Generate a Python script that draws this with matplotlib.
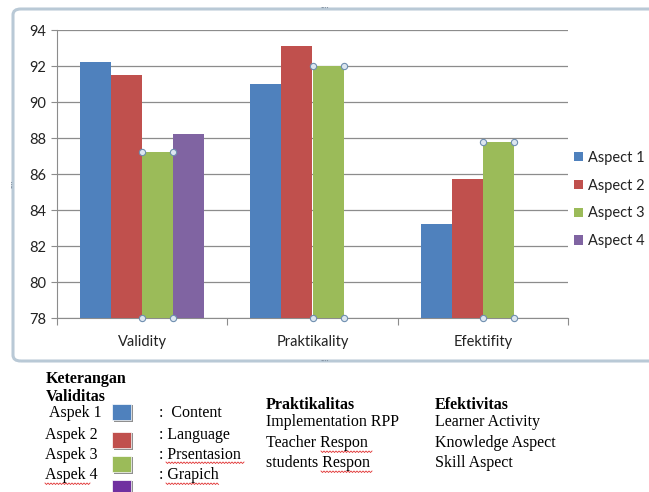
import numpy as np
import matplotlib.pyplot as plt
from matplotlib.patches import FancyBboxPatch, Rectangle

categories = ['Validity', 'Praktikality', 'Efektifity']
series_names = ['Aspect 1', 'Aspect 2', 'Aspect 3', 'Aspect 4']
aspect_1 = [92.2, 91.0, 83.2]
aspect_2 = [91.5, 93.1, 85.7]
aspect_3 = [87.2, 92.0, 87.8]
aspect_4 = [88.2, np.nan, np.nan]
colors = ['#4f81bd', '#c0504d', '#9bbb59', '#8064a2']

W, H = 649, 492
fig = plt.figure(figsize=(W / 100, H / 100), dpi=100)
fig.patch.set_facecolor('white')
plt.rcParams['font.family'] = ['Lato', 'DejaVu Sans']

def fx(px):
    return px / W

def fy(py):
    return 1 - py / H

# excel chart frame
frame = FancyBboxPatch((fx(13), fy(361)), fx(660) - fx(13), fy(9) - fy(361),
                       boxstyle='round,pad=0,rounding_size=0.012',
                       transform=fig.transFigure, facecolor='none',
                       edgecolor='#b9c9d6', linewidth=2.2, zorder=-1)
fig.patches.append(frame)
for (x, y, rot) in [(325, 8, 0), (325, 361, 0), (13, 184, 90)]:
    fig.text(fx(x), fy(y), '····', ha='center', va='center', fontsize=6,
             color='#7f8f9f', rotation=rot)

ax = fig.add_axes([fx(57), fy(318), fx(568) - fx(57), fy(30) - fy(318)])
ax.patch.set_alpha(0)
x = np.arange(len(categories))
w = 0.182
all_series = [aspect_1, aspect_2, aspect_3, aspect_4]
for i, vals in enumerate(all_series):
    ax.bar(x + (i - 1.5) * w, vals, width=w, color=colors[i],
           label=series_names[i], zorder=3, bottom=0)

# selection handles on the green series
for xi, v in zip(x + 0.5 * w, aspect_3):
    for dx in (-w / 2, w / 2):
        ax.plot([xi + dx, xi + dx], [v, 78], 'o', ms=4.5, mfc='#dce6f0',
                mec='#6f8fb0', mew=0.8, zorder=5, clip_on=False)

ax.set_ylim(78, 94)
ax.set_xlim(-0.5, 2.5)
ax.set_yticks(np.arange(78, 95, 2))
ax.yaxis.grid(True, color='#8c8c8c', linewidth=0.9, zorder=0)
ax.set_axisbelow(True)
ax.set_xticks([-0.5, 0.5, 1.5, 2.5])
ax.set_xticklabels([])
ax.set_xticks(x, minor=True)
ax.set_xticklabels(categories, minor=True)
ax.tick_params(axis='x', which='major', length=5, color='#8c8c8c')
ax.tick_params(axis='x', which='minor', length=0, pad=12, labelsize=10.5, labelcolor='#222222')
ax.tick_params(axis='y', length=4, color='#8c8c8c', labelsize=10.5, pad=4, labelcolor='#222222')
for s in ['top', 'right']:
    ax.spines[s].set_visible(False)
for s in ['left', 'bottom']:
    ax.spines[s].set_color('#8c8c8c')

handles, labels = ax.get_legend_handles_labels()
fig.legend(handles, labels, loc='center left', bbox_to_anchor=(fx(574), fy(199.5)),
           frameon=False, handlelength=0.62, handleheight=0.62, handletextpad=0.35,
           labelspacing=0.95, fontsize=10.5, borderpad=0, borderaxespad=0,
           labelcolor='#222222')

# keterangan text below the chart
serif = 'Liberation Serif'
fs = 11.5
fig.text(fx(46), fy(379), 'Keterangan', family=serif, weight='bold', fontsize=fs, va='center')
fig.text(fx(46), fy(397), 'Validitas', family=serif, weight='bold', fontsize=fs, va='center')
aspek = ['Aspek 1', 'Aspek 2', 'Aspek 3', 'Aspek 4']
desc = [':  Content', ': Language', ': Prsentasion', ': Grapich']
rows_y = [413, 435, 455, 475]
box_y = [404, 432, 456, 480]
box_colors = colors[:3] + ['#7030a0']
for i in range(4):
    fig.text(fx(49 if i == 0 else 45), fy(rows_y[i]), aspek[i], family=serif,
             fontsize=fs, va='center')
    fig.text(fx(159), fy(rows_y[i]), desc[i], family=serif, fontsize=fs, va='center')
    fig.patches.append(Rectangle((fx(114), fy(box_y[i] + 18)), fx(19), fy(0) - fy(17),
                                 transform=fig.transFigure, facecolor='#333333',
                                 edgecolor='none', alpha=0.55, zorder=1))
    fig.patches.append(Rectangle((fx(112), fy(box_y[i] + 16)), fx(19), fy(0) - fy(16),
                                 transform=fig.transFigure, facecolor=box_colors[i],
                                 edgecolor='#ffffff', linewidth=0.5, zorder=2))

fig.text(fx(266), fy(405), 'Praktikalitas', family=serif, weight='bold', fontsize=fs, va='center')
for t, yy in zip(['Implementation RPP', 'Teacher Respon', 'students Respon'], [422, 443, 463]):
    fig.text(fx(266), fy(yy), t, family=serif, fontsize=fs, va='center')
fig.text(fx(435), fy(405), 'Efektivitas', family=serif, weight='bold', fontsize=fs, va='center')
for t, yy in zip(['Learner Activity', 'Knowledge Aspect', 'Skill Aspect'], [422, 443, 463]):
    fig.text(fx(435), fy(yy), t, family=serif, fontsize=fs, va='center')

# spell-check squiggles
def squiggle(x0, x1, yy):
    xs = np.arange(x0, x1 + 1, 1.5)
    ys = yy + np.where(np.arange(len(xs)) % 2 == 0, 0, 1.5)
    fig.lines.append(plt.Line2D(fx(xs), fy(ys), transform=fig.transFigure,
                                color='#e03030', linewidth=0.6))

squiggle(321, 372, 451)
squiggle(321, 372, 471)
squiggle(166, 244, 462)
squiggle(166, 219, 483)
squiggle(45, 90, 483)

fig.savefig('out.png', dpi=100)
